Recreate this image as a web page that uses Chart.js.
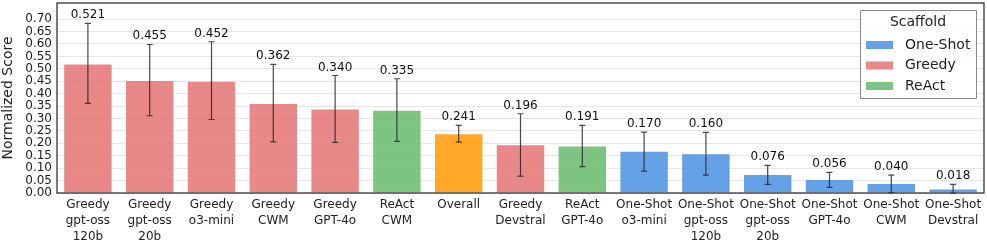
<!DOCTYPE html>
<html>
<head>
<meta charset="utf-8">
<script src="https://cdn.jsdelivr.net/npm/chart.js@4.4.1/dist/chart.umd.min.js"></script>
<style>
  html, body { margin: 0; padding: 0; background: #fff; }
  #wrap { width: 987px; height: 246px; }
</style>
</head>
<body>
<div id="wrap"><canvas id="scoreChart"></canvas></div>
<script>
// Categorías (etiquetas del eje x, en varias líneas)
const categorias = [
    ['Greedy', 'gpt-oss', '120b'],
    ['Greedy', 'gpt-oss', '20b'],
    ['Greedy', 'o3-mini'],
    ['Greedy', 'CWM'],
    ['Greedy', 'GPT-4o'],
    ['ReAct', 'CWM'],
    ['Overall'],
    ['Greedy', 'Devstral'],
    ['ReAct', 'GPT-4o'],
    ['One-Shot', 'o3-mini'],
    ['One-Shot', 'gpt-oss', '120b'],
    ['One-Shot', 'gpt-oss', '20b'],
    ['One-Shot', 'GPT-4o'],
    ['One-Shot', 'CWM'],
    ['One-Shot', 'Devstral']
];

// Scaffold de cada barra
const scaffold = ['Greedy', 'Greedy', 'Greedy', 'Greedy', 'Greedy', 'ReAct', 'Overall',
    'Greedy', 'ReAct', 'One-Shot', 'One-Shot', 'One-Shot', 'One-Shot', 'One-Shot', 'One-Shot'];

// Puntaje normalizado
const puntajes = [0.521, 0.455, 0.452, 0.362, 0.340, 0.335, 0.241, 0.196, 0.191, 0.170, 0.160, 0.076, 0.056, 0.040, 0.018];

// Extremos de las barras de error
const errorBajo = [0.361, 0.311, 0.296, 0.206, 0.204, 0.208, 0.205, 0.068, 0.106, 0.088, 0.072, 0.035, 0.023, 0.001, 0.000];
const errorAlto = [0.683, 0.598, 0.609, 0.518, 0.473, 0.460, 0.272, 0.319, 0.272, 0.245, 0.244, 0.111, 0.083, 0.072, 0.035];

// Ticks del eje y
const ticksY = [0.00, 0.05, 0.10, 0.15, 0.20, 0.25, 0.30, 0.35, 0.40, 0.45, 0.50, 0.55, 0.60, 0.65, 0.70];

// Leyenda
const leyendaTitulo = 'Scaffold';
const leyendaItems = ['One-Shot', 'Greedy', 'ReAct'];

const coloresBarra = {
    'One-Shot': 'rgba(74,144,226,0.85)',
    'Greedy': 'rgba(229,115,115,0.85)',
    'ReAct': 'rgba(102,187,106,0.85)',
    'Overall': 'rgba(255,152,0,0.85)'
};

const FUENTE = 'DejaVu Sans, sans-serif';

// Barras de error + etiquetas de valor
const errorBarsPlugin = {
    id: 'errorBars',
    afterDatasetsDraw(chart) {
        const ctx = chart.ctx;
        const y = chart.scales.y;
        const meta = chart.getDatasetMeta(0);
        ctx.save();
        meta.data.forEach((bar, i) => {
            const yAlto = y.getPixelForValue(errorAlto[i]);
            const yBajo = y.getPixelForValue(errorBajo[i]);
            ctx.strokeStyle = 'rgba(40,40,40,0.85)';
            ctx.lineWidth = 1.2;
            ctx.beginPath();
            ctx.moveTo(bar.x, yAlto);
            ctx.lineTo(bar.x, yBajo);
            ctx.moveTo(bar.x - 3, yAlto);
            ctx.lineTo(bar.x + 3, yAlto);
            ctx.moveTo(bar.x - 3, yBajo);
            ctx.lineTo(bar.x + 3, yBajo);
            ctx.stroke();

            ctx.fillStyle = '#111';
            ctx.font = '12px ' + FUENTE;
            ctx.textAlign = 'center';
            ctx.textBaseline = 'alphabetic';
            ctx.fillText(puntajes[i].toFixed(3), bar.x, yAlto - 5);
        });
        ctx.restore();
    }
};

// Marco del área y leyenda dentro del gráfico
const marcoYLeyendaPlugin = {
    id: 'marcoYLeyenda',
    afterDraw(chart) {
        const ctx = chart.ctx;
        const a = chart.chartArea;
        ctx.save();
        ctx.strokeStyle = '#222';
        ctx.lineWidth = 1.2;
        ctx.strokeRect(a.left, a.top, a.right - a.left, a.bottom - a.top);

        // Caja de la leyenda
        const w = 116, h = 88;
        const x0 = a.right - 8 - w;
        const y0 = a.top + 7;
        ctx.fillStyle = 'rgba(255,255,255,0.9)';
        ctx.strokeStyle = '#888';
        ctx.lineWidth = 1;
        ctx.beginPath();
        ctx.rect(x0 + 0.5, y0 + 0.5, w, h);
        ctx.fill();
        ctx.stroke();

        ctx.fillStyle = '#222';
        ctx.font = '14px ' + FUENTE;
        ctx.textAlign = 'center';
        ctx.textBaseline = 'middle';
        ctx.fillText(leyendaTitulo, x0 + w / 2, y0 + 12);

        leyendaItems.forEach((nombre, i) => {
            const cy = y0 + 35 + i * 20.5;
            ctx.fillStyle = coloresBarra[nombre];
            ctx.fillRect(x0 + 6, cy - 4, 27, 8);
            ctx.fillStyle = '#222';
            ctx.textAlign = 'left';
            ctx.fillText(nombre, x0 + 45, cy);
        });
        ctx.restore();
    }
};

document.addEventListener('DOMContentLoaded', () => {
    const ctx = document.getElementById('scoreChart').getContext('2d');
    new Chart(ctx, {
        type: 'bar',
        data: {
            labels: categorias,
            datasets: [{
                label: 'Normalized Score',
                data: puntajes,
                backgroundColor: scaffold.map(s => coloresBarra[s]),
                borderColor: 'rgba(255,255,255,0.6)',
                borderWidth: 1,
                barPercentage: 0.8,
                categoryPercentage: 1.0
            }]
        },
        options: {
            responsive: true,
            maintainAspectRatio: false,
            animation: false,
            layout: { padding: { left: 0, right: 3, top: 3, bottom: 0 } },
            plugins: {
                legend: { display: false },
                tooltip: { enabled: false }
            },
            scales: {
                x: {
                    grid: { display: false, drawTicks: false },
                    border: { display: false },
                    ticks: {
                        color: '#222',
                        font: { family: FUENTE, size: 12, lineHeight: 1.34 },
                        padding: 4,
                        maxRotation: 0,
                        autoSkip: false
                    },
                    afterFit(scale) {
                        scale.height = 53;
                        scale.paddingLeft = 0;
                        scale.paddingRight = 0;
                    }
                },
                y: {
                    min: 0,
                    max: 0.765,
                    afterBuildTicks(scale) {
                        scale.ticks = ticksY.map(v => ({ value: v }));
                    },
                    grid: { color: '#e6e6e6', lineWidth: 1, drawTicks: false },
                    border: { display: false },
                    ticks: {
                        color: '#222',
                        font: { family: FUENTE, size: 12 },
                        padding: 5,
                        autoSkip: false,
                        callback: v => v.toFixed(2)
                    },
                    title: {
                        display: true,
                        text: 'Normalized Score',
                        color: '#222',
                        font: { family: FUENTE, size: 14 },
                        padding: { top: 0, bottom: 0 }
                    },
                    afterFit(scale) {
                        scale.width = 57;
                        scale.paddingTop = 0;
                        scale.paddingBottom = 0;
                    }
                }
            }
        },
        plugins: [errorBarsPlugin, marcoYLeyendaPlugin]
    });
});
</script>
</body>
</html>
